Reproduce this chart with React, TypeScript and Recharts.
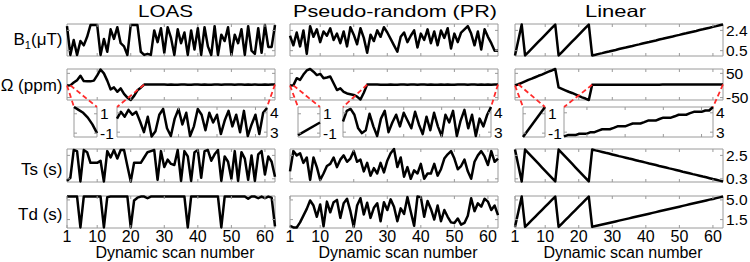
import React from 'react';
import { LineChart, Line, XAxis, YAxis, ReferenceArea } from 'recharts';

// x: dynamic scan number
const scans = Array.from({ length: 63 }, (_, i) => i + 1);
const tailScans = scans.slice(23); // scans 24..63, shown in the big insets
const smallScansLoas = [1, 1.2, 1.4, 1.6, 1.8, 2];
const smallScansLine = [1, 2];

const xTicks = [10, 20, 30, 40, 50, 60];
const xTickLabels = [1, 10, 20, 30, 40, 50, 60];
const tailXTicks = [30, 40, 50, 60];

const b1Ticks = [0.5, 2.4];
const omegaTicks = [-50, 50];
const smallTicks = [-1, 1];
const tailTicks = [3, 4];
const tsTicks = [0.3, 2.5];
const tdTicks = [1.5, 5.0];

// B1 (uT)
const loasB1 = [2.8, 0.1, 1.5, 0.1, 1.4, 1.0, 1.8, 2.9, 2.9, 2.9, 0.1, 1.6, 0.4, 2.5, 1.6, 2.7, 1.2, 0.9, 0.1, 2.9, 2.9, 2.9, 0.4, 0.1, 0.2, 0.1, 2.4, 1.3, 2.6, 0.3, 2.7, 1.7, 0.1, 2.5, 1.2, 2.2, 0.1, 2.4, 0.6, 2.6, 0.1, 2.7, 0.9, 0.1, 2.8, 0.1, 2.0, 1.4, 2.7, 0.1, 2.0, 1.2, 2.5, 0.1, 2.8, 0.5, 0.2, 2.6, 0.3, 2.9, 0.85, 0.85, 2.9];
const prB1 = [1.9, 1.0, 2.2, 0.9, 2.4, 0.2, 2.8, 1.8, 2.5, 1.3, 2.3, 1.9, 2.6, 1.5, 2.1, 1.2, 2.3, 0.9, 2.7, 2.0, 1.1, 2.6, 1.7, 0.3, 2.0, 1.4, 2.4, 1.8, 2.7, 2.2, 1.6, 1.0, 0.4, 1.8, 2.2, 1.3, 1.9, 2.4, 0.8, 2.1, 1.5, 2.5, 1.2, 2.3, 1.0, 2.4, 1.7, 2.6, 0.7, 2.1, 1.3, 2.2, 2.5, 2.8, 2.1, 1.0, 2.3, 0.6, 2.5, 1.8, 1.2, 0.5, 0.5];
const linB1 = [0.05, 1.5, 2.95, 0.05, 0.37, 0.69, 1.02, 1.34, 1.66, 1.98, 2.31, 2.63, 2.95, 0.05, 0.37, 0.69, 1.02, 1.34, 1.66, 1.98, 2.31, 2.63, 2.95, 0.05, 0.12, 0.2, 0.27, 0.35, 0.42, 0.5, 0.57, 0.65, 0.72, 0.79, 0.87, 0.94, 1.02, 1.09, 1.17, 1.24, 1.31, 1.39, 1.46, 1.54, 1.61, 1.69, 1.76, 1.83, 1.91, 1.98, 2.06, 2.13, 2.21, 2.28, 2.35, 2.43, 2.5, 2.58, 2.65, 2.73, 2.8, 2.88, 2.95];

// Omega (ppm): scans 1..23, then the near-constant part (scans 24..63)
const loasOmegaHead = [0, 0.5, 12, 22, 40, 18, 17, 17, 20, 42, 66, 50, 20, -16, -8, -26, -12, -35, -50, -60, -43, -20, -9];
const prOmegaHead = [0, 0.5, 30, 23, 45, 62, 68, 57, 43, 48, 30, 33, 37, 9, -19, -12, -26, -33, -36, -39, -46, -58, -30];
const linOmegaHead = [0, 5, 11, 17, 23, 28, 34, 40, 45, 51, 57, 62, 68, -8, -14, -20, -26, -31, -37, -43, -49, -54, -60];
const loasOmegaTail = [3.7, 4.05, 3.8, 4.15, 3.9, 4.05, 3.55, 3.0, 3.8, 2.78, 3.05, 3.9, 4.2, 3.2, 2.8, 3.7, 4.2, 3.4, 4.0, 2.8, 3.3, 4.2, 3.9, 3.1, 4.0, 3.5, 3.9, 2.9, 3.6, 4.1, 3.3, 3.9, 3.0, 4.1, 2.8, 3.4, 3.9, 2.9, 4.0, 4.25];
const prOmegaTail = [3.55, 4.1, 4.2, 3.9, 3.2, 2.95, 3.1, 3.95, 3.3, 2.8, 3.7, 4.1, 3.0, 3.5, 3.9, 3.3, 4.0, 3.6, 3.2, 4.05, 3.4, 2.9, 3.8, 3.1, 4.0, 3.3, 2.8, 3.9, 3.5, 4.1, 2.8, 3.6, 4.15, 3.2, 3.9, 2.8, 3.7, 3.3, 3.9, 4.3];
const linOmegaTail = [2.78, 2.85, 2.85, 2.85, 2.92, 2.92, 2.92, 3.0, 3.0, 3.08, 3.15, 3.15, 3.15, 3.22, 3.3, 3.3, 3.3, 3.38, 3.45, 3.45, 3.45, 3.52, 3.6, 3.6, 3.6, 3.68, 3.75, 3.75, 3.75, 3.82, 3.9, 3.9, 3.9, 3.98, 4.05, 4.05, 4.05, 4.12, 4.12, 4.3];
const loasSmall = [1.7, 1.4, 1.1, 0.6, -0.1, -1.0];
const prSmall = [-1.2, 0.1];
const linSmall = [-1.4, 1.7];

// Ts (s)
const loasTs = [0.1, 0.4, 3.0, 2.9, 0.05, 3.0, 2.8, 1.8, 1.8, 1.8, 2.0, 0.05, 2.9, 2.3, 3.0, 2.2, 3.0, 3.0, 1.5, 0.05, 1.8, 1.8, 1.8, 2.3, 2.8, 2.9, 3.0, 0.2, 2.9, 1.4, 2.1, 1.7, 1.6, 3.0, 0.1, 2.9, 2.4, 0.1, 2.8, 3.0, 0.4, 2.9, 3.0, 2.0, 2.6, 3.0, 0.1, 2.4, 1.9, 0.3, 2.9, 0.1, 2.8, 2.2, 0.2, 2.5, 0.1, 2.6, 2.9, 0.7, 2.4, 1.9, 0.5];
const prTs = [1.0, 2.9, 2.5, 2.7, 1.8, 2.3, 0.2, 2.3, 1.4, 0.2, 0.8, 1.5, 1.7, 2.3, 1.4, 2.1, 2.5, 1.9, 2.2, 2.9, 1.9, 2.1, 1.0, 1.8, 0.6, 1.3, 0.8, 1.8, 0.9, 2.0, 2.7, 3.1, 1.4, 2.3, 0.5, 1.4, 0.3, 1.1, 0.8, 1.7, 0.3, 0.8, 0.8, 1.7, 0.6, 1.2, 2.2, 2.6, 2.9, 2.2, 1.2, 1.5, 2.1, 1.0, 0.3, 1.9, 2.5, 2.9, 2.4, 1.6, 2.9, 1.9, 2.2];
const linTs = [3.05, 1.55, 0.05, 3.05, 2.72, 2.38, 2.05, 1.72, 1.38, 1.05, 0.72, 0.38, 0.05, 3.05, 2.72, 2.38, 2.05, 1.72, 1.38, 1.05, 0.72, 0.38, 0.05, 3.05, 2.97, 2.9, 2.82, 2.74, 2.67, 2.59, 2.51, 2.43, 2.36, 2.28, 2.2, 2.13, 2.05, 1.97, 1.9, 1.82, 1.74, 1.67, 1.59, 1.51, 1.44, 1.36, 1.28, 1.21, 1.13, 1.05, 0.97, 0.9, 0.82, 0.74, 0.67, 0.59, 0.51, 0.44, 0.36, 0.28, 0.21, 0.13, 0.05];

// Td (s)
const loasTd = [5.6, 5.6, 5.6, 5.6, 0.1, 5.6, 5.6, 5.6, 5.6, 5.6, 5.6, 0.1, 5.5, 5.6, 5.6, 5.6, 5.6, 5.6, 5.6, 0.1, 4.9, 5.4, 5.6, 5.6, 5.3, 5.6, 5.6, 5.6, 5.6, 5.6, 5.6, 5.6, 5.6, 5.6, 5.6, 5.6, 0.1, 5.6, 5.6, 5.6, 5.6, 5.6, 5.6, 5.6, 5.6, 5.6, 0.1, 5.6, 5.6, 5.6, 5.6, 5.6, 5.6, 5.6, 5.2, 5.6, 5.6, 5.3, 5.6, 5.3, 5.6, 5.4, 0.3];
const prTd = [0.4, 0.1, 0.1, 1.0, 2.2, 3.4, 4.9, 4.0, 2.0, 4.2, 0.3, 4.7, 2.8, 4.6, 5.0, 1.8, 4.4, 5.2, 3.0, 0.2, 4.0, 5.3, 2.4, 4.5, 1.8, 3.6, 4.4, 1.2, 4.6, 3.2, 5.1, 3.8, 1.2, 3.5, 2.5, 5.5, 2.9, 0.4, 5.6, 5.5, 2.0, 4.8, 3.4, 1.5, 4.0, 1.2, 3.2, 2.0, 1.0, 0.9, 1.7, 0.6, 0.9, 2.2, 5.3, 3.0, 4.4, 3.8, 5.2, 4.7, 3.2, 4.0, 2.3];
const linTd = [0.2, 2.9, 5.6, 0.2, 0.8, 1.4, 2.0, 2.6, 3.2, 3.8, 4.4, 5.0, 5.6, 0.2, 0.8, 1.4, 2.0, 2.6, 3.2, 3.8, 4.4, 5.0, 5.6, 0.2, 0.34, 0.48, 0.62, 0.75, 0.89, 1.03, 1.17, 1.31, 1.45, 1.58, 1.72, 1.86, 2.0, 2.14, 2.28, 2.42, 2.55, 2.69, 2.83, 2.97, 3.11, 3.25, 3.38, 3.52, 3.66, 3.8, 3.94, 4.08, 4.22, 4.35, 4.49, 4.63, 4.77, 4.91, 5.05, 5.18, 5.32, 5.46, 5.6];

const GRID = '#9a9a9a';
const RED = '#ff2a2a';
const FONT = '"Liberation Sans", Arial, Helvetica, sans-serif';

const X_DOMAIN: [number, number] = [1, 63];
const TAIL_DOMAIN: [number, number] = [24, 63];
const B1_DOMAIN: [number, number] = [0, 3];
const OM_DOMAIN: [number, number] = [-60, 68];
const SMALL_DOMAIN: [number, number] = [-1.4, 1.7];
const TAIL_Y_DOMAIN: [number, number] = [2.75, 4.3];
const TS_DOMAIN: [number, number] = [0, 3.1];
const TD_DOMAIN: [number, number] = [0, 5.7];

const PW = 208;
const ROW = {
  b1: { top: 24, h: 32 },
  om: { top: 69, h: 31 },
  inset: { top: 107, h: 30 },
  ts: { top: 149, h: 33 },
  td: { top: 196, h: 32 },
};

type PanelProps = {
  left: number;
  top: number;
  width: number;
  height: number;
  xs: number[];
  ys: number[];
  xDomain: [number, number];
  yDomain: [number, number];
  xTicks: number[];
  yTicks: number[];
  showX?: boolean;
  showY?: boolean;
  fmt?: (v: number) => string;
};

function Panel({ left, top, width, height, xs, ys, xDomain, yDomain, xTicks, yTicks, showX, showY, fmt = (v) => String(v) }: PanelProps) {
  const pad = 4;
  const axisW = showY ? 34 : pad;
  // leave room under the box for the lower tick label's descent
  const axisH = showX ? 22 : showY ? 10 : pad;
  const data = xs.map((x, i) => ({ x, y: ys[i] }));

  // matlab style: ticks point inwards on both sides of the box
  const xTick = (p: any) => (
    <g>
      <line x1={p.x} x2={p.x} y1={p.y} y2={p.y - 3} stroke={GRID} />
      <line x1={p.x} x2={p.x} y1={p.y - height} y2={p.y - height + 3} stroke={GRID} />
      {showX && (
        <text x={p.x} y={p.y + 14} textAnchor="middle" fontSize={16} fill="#000" fontFamily={FONT}>
          {p.payload.value}
        </text>
      )}
    </g>
  );
  // right-hand axis: p.x is the right edge of the box
  const yTick = (p: any) => (
    <g>
      <line x1={p.x} x2={p.x - 3} y1={p.y} y2={p.y} stroke={GRID} />
      <line x1={p.x - width} x2={p.x - width + 3} y1={p.y} y2={p.y} stroke={GRID} />
      {showY && (
        <text x={p.x + 3} y={p.y + 5.5} textAnchor="start" fontSize={15.5} fill="#000" fontFamily={FONT}>
          {fmt(p.payload.value)}
        </text>
      )}
    </g>
  );

  return (
    <div style={{ position: 'absolute', left: left - pad, top: top - pad }}>
      <LineChart
        width={width + pad + axisW}
        height={height + pad + axisH}
        data={data}
        margin={{ top: pad, left: pad, right: 0, bottom: 0 }}
      >
        <XAxis
          dataKey="x"
          type="number"
          domain={xDomain}
          ticks={xTicks}
          interval={0}
          height={axisH}
          axisLine={false}
          tickLine={false}
          tickSize={0}
          tickMargin={0}
          tick={xTick}
        />
        <YAxis
          orientation="right"
          type="number"
          domain={yDomain}
          ticks={yTicks}
          interval={0}
          width={axisW}
          axisLine={false}
          tickLine={false}
          tickSize={0}
          tickMargin={0}
          tick={yTick}
        />
        <ReferenceArea
          x1={xDomain[0]}
          x2={xDomain[1]}
          y1={yDomain[0]}
          y2={yDomain[1]}
          fill="none"
          stroke={GRID}
          strokeWidth={1}
          ifOverflow="visible"
        />
        <Line
          type="linear"
          dataKey="y"
          stroke="#000"
          strokeWidth={2.5}
          strokeLinejoin="round"
          dot={false}
          isAnimationActive={false}
        />
      </LineChart>
    </div>
  );
}

export default function App() {
  const cols = [
    { left: 67, b1: loasB1, omHead: loasOmegaHead, tail: loasOmegaTail, smallX: smallScansLoas, small: loasSmall, ts: loasTs, td: loasTd, sL: 74, sW: 23, lL: 117, lW: 150 },
    { left: 290, b1: prB1, omHead: prOmegaHead, tail: prOmegaTail, smallX: smallScansLine, small: prSmall, ts: prTs, td: prTd, sL: 298, sW: 22, lL: 343, lW: 148 },
    { left: 515, b1: linB1, omHead: linOmegaHead, tail: linOmegaTail, smallX: smallScansLine, small: linSmall, ts: linTs, td: linTd, sL: 523, sW: 22, lL: 564, lW: 149 },
  ];

  // connector ends on the Omega panel follow its x/y scale
  const sx = (left: number, s: number) => left + ((s - X_DOMAIN[0]) / (X_DOMAIN[1] - X_DOMAIN[0])) * PW;
  const oy = (v: number) => ROW.om.top + ((OM_DOMAIN[1] - v) / (OM_DOMAIN[1] - OM_DOMAIN[0])) * ROW.om.h;

  return (
    <div style={{ position: 'absolute', left: 0, top: 0, width: 750, height: 262, background: '#fff', fontFamily: FONT, overflow: 'hidden' }}>
      {cols.map((c, ci) => {
        const last = ci === 2;
        const om = [...c.omHead, ...c.tail];
        return (
          <React.Fragment key={ci}>
            <Panel left={c.left} top={ROW.b1.top} width={PW} height={ROW.b1.h} xs={scans} ys={c.b1} xDomain={X_DOMAIN} yDomain={B1_DOMAIN} xTicks={xTicks} yTicks={b1Ticks} showY={last} />
            <Panel left={c.left} top={ROW.om.top} width={PW} height={ROW.om.h} xs={scans} ys={om} xDomain={X_DOMAIN} yDomain={OM_DOMAIN} xTicks={xTicks} yTicks={omegaTicks} showY={last} />
            <Panel left={c.sL} top={ROW.inset.top} width={c.sW} height={ROW.inset.h} xs={c.smallX} ys={c.small} xDomain={[1, 2]} yDomain={SMALL_DOMAIN} xTicks={[]} yTicks={smallTicks} showY />
            <Panel left={c.lL} top={ROW.inset.top} width={c.lW} height={ROW.inset.h} xs={tailScans} ys={c.tail} xDomain={TAIL_DOMAIN} yDomain={TAIL_Y_DOMAIN} xTicks={tailXTicks} yTicks={tailTicks} showY />
            <Panel left={c.left} top={ROW.ts.top} width={PW} height={ROW.ts.h} xs={scans} ys={c.ts} xDomain={X_DOMAIN} yDomain={TS_DOMAIN} xTicks={xTicks} yTicks={tsTicks} showY={last} />
            <Panel left={c.left} top={ROW.td.top} width={PW} height={ROW.td.h} xs={scans} ys={c.td} xDomain={X_DOMAIN} yDomain={TD_DOMAIN} xTicks={xTickLabels} yTicks={tdTicks} showY={last} showX fmt={(v) => v.toFixed(1)} />
          </React.Fragment>
        );
      })}

      <svg width={750} height={262} style={{ position: 'absolute', left: 0, top: 0, pointerEvents: 'none' }} fontFamily={FONT}>
        {cols.map((c, ci) => {
          const om = [...c.omHead, ...c.tail];
          const it = ROW.inset.top;
          return (
            <g key={ci} stroke={RED} strokeWidth={1.8} strokeDasharray="5 3" fill="none">
              <line x1={sx(c.left, 1)} y1={oy(om[0])} x2={c.sL} y2={it} />
              <line x1={sx(c.left, 2)} y1={oy(om[1])} x2={c.sL + c.sW} y2={it} />
              <line x1={sx(c.left, 24)} y1={oy(om[23])} x2={c.lL} y2={it} />
              <line x1={sx(c.left, 63)} y1={oy(om[62])} x2={c.lL + c.lW} y2={it} />
            </g>
          );
        })}

        <g fill="#000" fontSize={16.5}>
          <text x={138} y={16.5} textLength={55} lengthAdjust="spacingAndGlyphs">LOAS</text>
          <text x={293} y={16.5} textLength={204} lengthAdjust="spacingAndGlyphs">Pseudo-random (PR)</text>
          <text x={585} y={16.5} textLength={61} lengthAdjust="spacingAndGlyphs">Linear</text>
        </g>

        <g fill="#000" fontSize={17} textAnchor="end">
          <text x={62.5} y={44.5}>
            B<tspan fontSize={11} dy={4}>1</tspan>
            <tspan dy={-4}>(μT)</tspan>
          </text>
          <text x={62.5} y={90.5}>Ω (ppm)</text>
          <text x={62.5} y={174.5}>Ts (s)</text>
          <text x={62.5} y={220}>Td (s)</text>
        </g>

        <g fill="#000" fontSize={16} textAnchor="middle">
          {cols.map((c, ci) => (
            <text key={ci} x={c.left + PW / 2 + 4} y={257.5}>Dynamic scan number</text>
          ))}
        </g>
      </svg>
    </div>
  );
}
